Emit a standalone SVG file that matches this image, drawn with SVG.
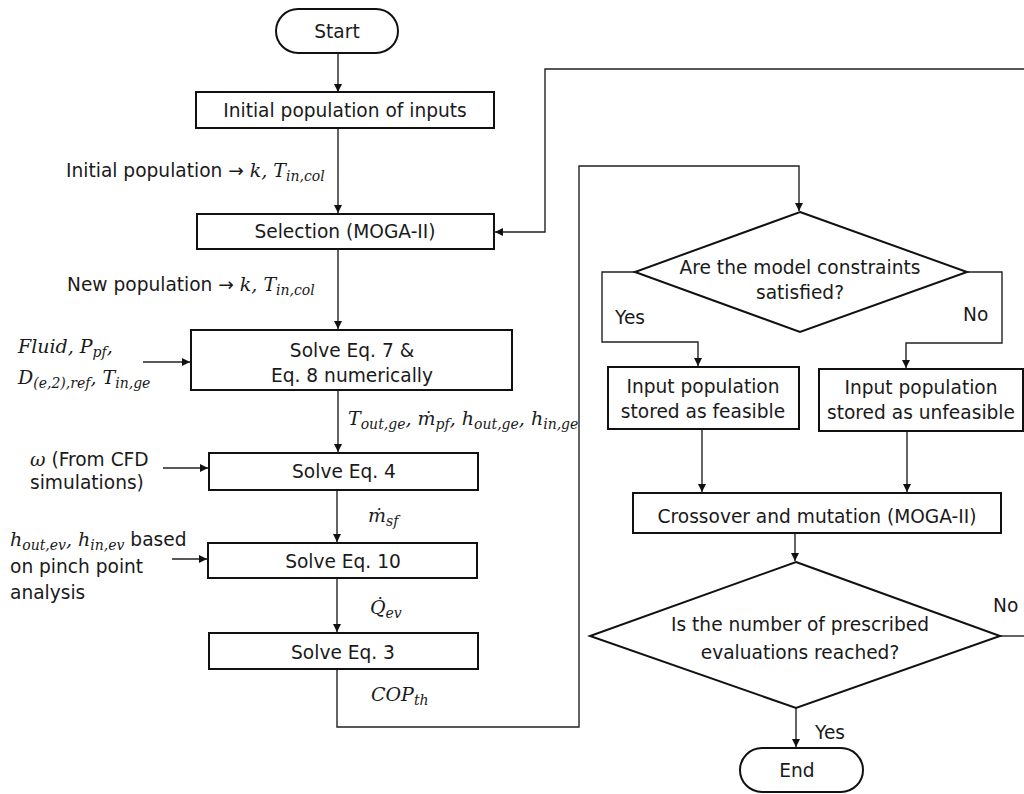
<svg xmlns="http://www.w3.org/2000/svg" width="1024" height="794" viewBox="0 0 1024 794">
<style>
.bx{fill:#fff;stroke:#111;stroke-width:2}
.cn{fill:none;stroke:#222;stroke-width:1.4}
.t{font-family:"DejaVu Sans",Verdana,sans-serif;font-size:18.6px;fill:#1a1a1a}
.m{font-family:"DejaVu Serif","Liberation Serif",serif;font-style:italic;font-size:19px;fill:#1a1a1a}
.s{font-size:14px}
.c{text-anchor:middle}
</style>
<defs>
<marker id="ah" viewBox="0 0 10 10" refX="10" refY="5" markerWidth="8" markerHeight="8" markerUnits="userSpaceOnUse" orient="auto">
<path d="M0,0 L10,5 L0,10 z" fill="#111"/>
</marker>
</defs>
<rect width="1024" height="794" fill="#fff"/>
<g id="connectors">
<path class="cn" d="M338,53 V92" marker-end="url(#ah)"/>
<path class="cn" d="M338,128 V213" marker-end="url(#ah)"/>
<path class="cn" d="M338,249 V329" marker-end="url(#ah)"/>
<path class="cn" d="M338,390 V452" marker-end="url(#ah)"/>
<path class="cn" d="M337,490 V542" marker-end="url(#ah)"/>
<path class="cn" d="M337,578 V632" marker-end="url(#ah)"/>
<path class="cn" d="M337,669 V727 H579 V166 H799 V211" marker-end="url(#ah)"/>
<path class="cn" d="M635,272 H602 V342 H698 V366" marker-end="url(#ah)"/>
<path class="cn" d="M967,272 H1002 V343 H906 V368" marker-end="url(#ah)"/>
<path class="cn" d="M702,429 V492" marker-end="url(#ah)"/>
<path class="cn" d="M907,431 V492" marker-end="url(#ah)"/>
<path class="cn" d="M795,533 V561" marker-end="url(#ah)"/>
<path class="cn" d="M796,708 V747" marker-end="url(#ah)"/>
<path class="cn" d="M1000,636 H1024"/>
<path class="cn" d="M1024,69 H545 V232 H495" marker-end="url(#ah)"/>
<path class="cn" d="M143,362 H190" marker-end="url(#ah)"/>
<path class="cn" d="M163,468 H208" marker-end="url(#ah)"/>
<path class="cn" d="M172,559 H207" marker-end="url(#ah)"/>
</g>
<g id="start">
<rect class="bx" x="276" y="9" width="122" height="44" rx="22"/>
<text class="t c" x="337" y="38">Start</text>
</g>
<g id="initial">
<rect class="bx" x="196" y="92" width="298" height="36"/>
<text class="t c" x="345" y="117">Initial population of inputs</text>
</g>
<g id="selection">
<rect class="bx" x="197" y="214" width="297" height="35"/>
<text class="t c" x="345" y="238">Selection (MOGA-II)</text>
</g>
<g id="solve78">
<rect class="bx" x="191" y="330" width="321" height="60"/>
<text class="t c" x="352" y="357">Solve Eq. 7 &amp;</text>
<text class="t c" x="352" y="382">Eq. 8 numerically</text>
</g>
<g id="solve4">
<rect class="bx" x="209" y="453" width="269" height="37"/>
<text class="t c" x="344" y="478">Solve Eq. 4</text>
</g>
<g id="solve10">
<rect class="bx" x="208" y="543" width="269" height="35"/>
<text class="t c" x="343" y="568">Solve Eq. 10</text>
</g>
<g id="solve3">
<rect class="bx" x="209" y="633" width="269" height="36"/>
<text class="t c" x="343" y="659">Solve Eq. 3</text>
</g>
<g id="constraints">
<polygon class="bx" points="800,212 967,272 800,332 635,272"/>
<text class="t c" x="800" y="274">Are the model constraints</text>
<text class="t c" x="800" y="299">satisfied?</text>
</g>
<g id="feasible">
<rect class="bx" x="608" y="367" width="191" height="62"/>
<text class="t c" x="703" y="393">Input population</text>
<text class="t c" x="703" y="418">stored as feasible</text>
</g>
<g id="unfeasible">
<rect class="bx" x="819" y="369" width="204" height="62"/>
<text class="t c" x="921" y="394">Input population</text>
<text class="t c" x="921" y="419">stored as unfeasible</text>
</g>
<g id="crossover">
<rect class="bx" x="633" y="493" width="368" height="40"/>
<text class="t c" x="817" y="523">Crossover and mutation (MOGA-II)</text>
</g>
<g id="evaluations">
<polygon class="bx" points="796,562 1000,636 796,708 590,636"/>
<text class="t c" x="800" y="631">Is the number of prescribed</text>
<text class="t c" x="800" y="659">evaluations reached?</text>
</g>
<g id="end">
<rect class="bx" x="740" y="748" width="123" height="44" rx="22"/>
<text class="t c" x="797" y="777">End</text>
</g>
<g id="labels">
<text x="66" y="177"><tspan class="t">Initial population → </tspan><tspan class="m">k, T</tspan><tspan class="m s" dy="4">in,col</tspan></text>
<text x="67" y="291"><tspan class="t">New population → </tspan><tspan class="m">k, T</tspan><tspan class="m s" dy="4">in,col</tspan></text>
<text x="18" y="353" class="m">Fluid, P<tspan class="s" dy="4">pf</tspan><tspan dy="-4">,</tspan></text>
<text x="18" y="384" class="m">D<tspan class="s" dy="4">(e,2),ref</tspan><tspan dy="-4">, T</tspan><tspan class="s" dy="4">in,ge</tspan></text>
<text x="348" y="425" class="m">T<tspan class="s" dy="4">out,ge</tspan><tspan dy="-4">, ṁ</tspan><tspan class="s" dy="4">pf</tspan><tspan dy="-4">, h</tspan><tspan class="s" dy="4">out,ge</tspan><tspan dy="-4">, h</tspan><tspan class="s" dy="4">in,ge</tspan></text>
<text x="30" y="466"><tspan class="m">ω</tspan><tspan class="t"> (From CFD</tspan></text>
<text x="30" y="489" class="t">simulations)</text>
<text x="368" y="522" class="m">ṁ<tspan class="s" dy="4">sf</tspan></text>
<text x="10" y="546"><tspan class="m">h</tspan><tspan class="m s" dy="4">out,ev</tspan><tspan class="m" dy="-4">, h</tspan><tspan class="m s" dy="4">in,ev</tspan><tspan class="t" dy="-4"> based</tspan></text>
<text x="10" y="573" class="t">on pinch point</text>
<text x="10" y="599" class="t">analysis</text>
<text x="370" y="614" class="m">Q̇<tspan class="s" dy="4">ev</tspan></text>
<text x="371" y="701" class="m">COP<tspan class="s" dy="4">th</tspan></text>
<text x="615" y="324" class="t">Yes</text>
<text x="963" y="321" class="t">No</text>
<text x="993" y="612" class="t">No</text>
<text x="815" y="739" class="t">Yes</text>
</g>
</svg>
